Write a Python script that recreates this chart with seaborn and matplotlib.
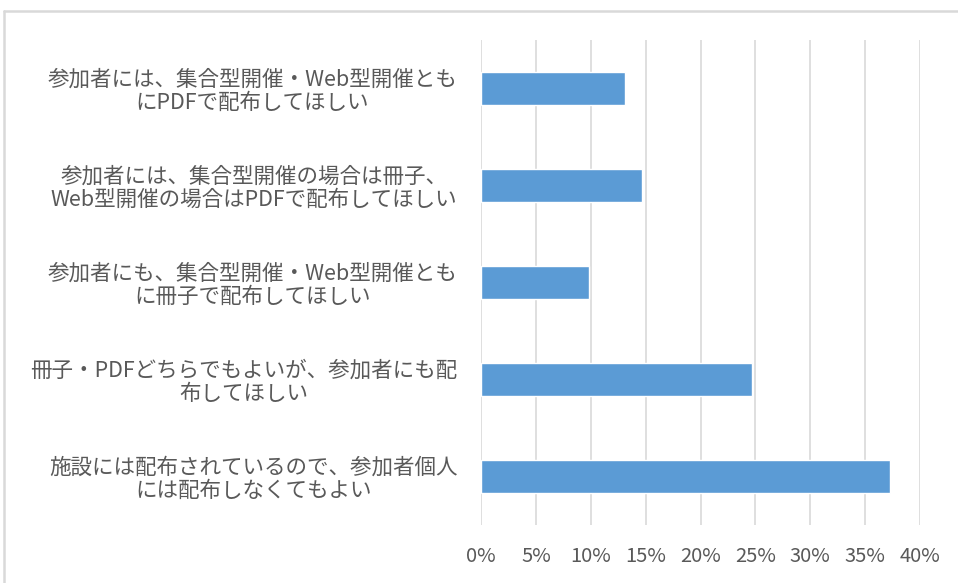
import pandas as pd
import matplotlib.pyplot as plt
import seaborn as sns
from matplotlib.lines import Line2D
from matplotlib.ticker import PercentFormatter

# --- Données ---
categories = [
    "参加者には、集合型開催・Web型開催とも\nにPDFで配布してほしい",
    "参加者には、集合型開催の場合は冊子、\nWeb型開催の場合はPDFで配布してほしい",
    "参加者にも、集合型開催・Web型開催とも\nに冊子で配布してほしい",
    "冊子・PDFどちらでもよいが、参加者にも配\n布してほしい",
    "施設には配布されているので、参加者個人\nには配布しなくてもよい",
]
values = [13.1, 14.7, 9.85, 24.7, 37.3]

df = pd.DataFrame({"label": categories, "pct": values})

# --- Style ---
sns.set_theme(style="white")
plt.rcParams['font.family'] = ['Noto Sans CJK JP', 'DejaVu Sans']

fig = plt.figure(figsize=(9.58, 5.83), dpi=100)
ax = fig.add_axes([481 / 958, 1 - 525 / 583, (920 - 481) / 958, (525 - 40) / 583])

sns.barplot(data=df, x="pct", y="label", orient="h", color="#5B9BD5",
            width=0.35, saturation=1, ax=ax, zorder=3)

ax.set_xlim(0, 40)
ax.set_ylim(4.5, -0.5)
ax.set_xticks(range(0, 41, 5))
ax.xaxis.set_major_formatter(PercentFormatter(decimals=0))
ax.grid(axis="x", color="#d9d9d9", linewidth=1.2, zorder=0)
ax.grid(axis="y", visible=False)
for s in ax.spines.values():
    s.set_visible(False)

ax.set_xlabel("")
ax.set_ylabel("")
ax.tick_params(axis="x", length=0, pad=15, labelsize=14.5, labelcolor="#595959")
ax.tick_params(axis="y", length=0, pad=17, labelsize=15.5, labelcolor="#595959")
for t in ax.get_yticklabels():
    t.set_multialignment("center")
    t.set_linespacing(1.05)

# cadre du graphique
fig.add_artist(Line2D([4 / 958, 1], [1 - 11 / 583] * 2, transform=fig.transFigure,
                      color="#d9d9d9", linewidth=1.8))
fig.add_artist(Line2D([4 / 958] * 2, [0, 1 - 11 / 583], transform=fig.transFigure,
                      color="#d9d9d9", linewidth=1.8))

fig.savefig("out.png", dpi=100)
